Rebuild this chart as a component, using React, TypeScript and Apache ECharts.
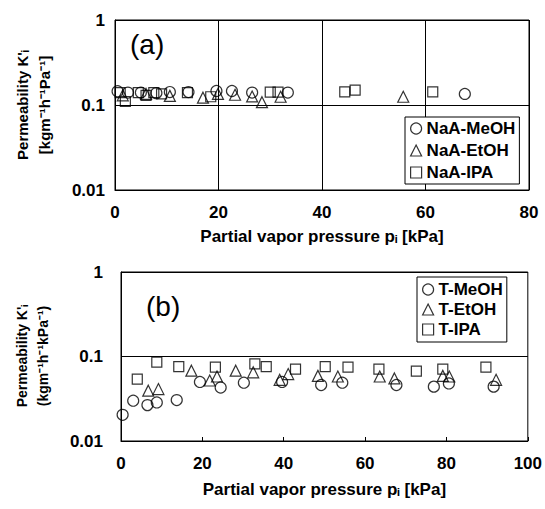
import React, { useEffect, useRef } from "react";
import * as echarts from "echarts";

// Panel (a): partial vapor pressure [kPa], permeability [kg m-1 h-1 Pa-1]
const naaMeOH: [number, number][] = [
  [0.5, 0.145], [2.5, 0.14], [5, 0.14], [8, 0.138], [10.6, 0.142], [14.2, 0.142],
  [19.6, 0.146], [22.6, 0.146], [26.5, 0.14], [33.4, 0.14], [67.6, 0.135],
];
const naaEtOH: [number, number][] = [
  [1.5, 0.13], [6, 0.135], [10.6, 0.128], [17, 0.122], [19.9, 0.135], [23.2, 0.132],
  [26.5, 0.126], [28.4, 0.108], [32, 0.125], [55.7, 0.125],
];
const naaIPA: [number, number][] = [
  [1, 0.14], [2, 0.11], [4.5, 0.14], [6, 0.13], [7.5, 0.14], [9, 0.135], [14, 0.14],
  [18.5, 0.125], [30, 0.142], [31.5, 0.142], [44.4, 0.143], [46.4, 0.15], [61.4, 0.143],
];

// Panel (b): partial vapor pressure [kPa], permeability [kg m-1 h-1 kPa-1]
const tMeOH: [number, number][] = [
  [0.4, 0.0204], [3.0, 0.03], [6.5, 0.0266], [8.8, 0.0286], [13.7, 0.0305], [19.4, 0.05],
  [24.5, 0.043], [30.2, 0.049], [39.6, 0.05], [49.2, 0.046], [54.4, 0.049], [67.7, 0.046],
  [76.9, 0.044], [80.6, 0.048], [91.6, 0.044],
];
const tEtOH: [number, number][] = [
  [6.7, 0.0394], [9.2, 0.0412], [17.3, 0.068], [21.8, 0.052], [23.6, 0.058], [28.2, 0.068],
  [32.5, 0.065], [39.0, 0.053], [41.1, 0.062], [48.4, 0.059], [53.3, 0.058], [63.6, 0.058],
  [67.2, 0.055], [79.1, 0.059], [80.7, 0.058], [92.2, 0.053],
];
const tIPA: [number, number][] = [
  [4.0, 0.054], [8.8, 0.0856], [14.2, 0.076], [23.2, 0.075], [32.9, 0.082], [35.7, 0.076],
  [42.9, 0.071], [50.2, 0.076], [55.8, 0.075], [63.4, 0.071], [72.6, 0.067], [79.1, 0.071],
  [89.7, 0.075],
];

const namesA = ["NaA-MeOH", "NaA-EtOH", "NaA-IPA"];
const namesB = ["T-MeOH", "T-EtOH", "T-IPA"];
const symbols = ["circle", "triangle", "rect"];
const xTitle = "Partial vapor pressure p\u1D62 [kPa]";

const FONT = "Liberation Sans, Arial, sans-serif";

export default function App() {
  const ref = useRef<HTMLDivElement>(null);
  useEffect(() => {
    if (!ref.current) return;
    const chart = echarts.init(ref.current, null, { renderer: "svg" });
    const mk = { color: "rgba(0,0,0,0)", borderColor: "#000", borderWidth: 1.2 };
    const yLabel = (v: number) => (v >= 0.99 ? "1" : v >= 0.099 ? "0.1" : "0.01");
    const xAxisBase = {
      type: "value",
      interval: 20,
      axisLine: { lineStyle: { color: "#000", width: 1 } },
      axisLabel: { color: "#000", fontFamily: FONT, fontWeight: "bold", fontSize: 17, margin: 14 },
      nameLocation: "middle",
      nameTextStyle: { color: "#000", fontFamily: FONT, fontWeight: "bold", fontSize: 17 },
    };
    const yAxisBase = {
      type: "log",
      logBase: 10,
      min: 0.01,
      max: 1,
      axisLine: { lineStyle: { color: "#000", width: 1 } },
      axisTick: { show: false },
      splitLine: { show: true, lineStyle: { color: "#000", width: 1 } },
      axisLabel: {
        color: "#000", fontFamily: FONT, fontWeight: "bold", fontSize: 17,
        formatter: yLabel, padding: [0, 0, 8, 0],
      },
    };
    const datas = [naaMeOH, naaEtOH, naaIPA, tMeOH, tEtOH, tIPA];
    const names = [...namesA, ...namesB];
    const series = datas.map((d, i) => ({
      type: "scatter",
      name: names[i],
      xAxisIndex: i < 3 ? 0 : 1,
      yAxisIndex: i < 3 ? 0 : 1,
      data: d,
      symbol: symbols[i % 3],
      symbolSize: symbols[i % 3] === "rect" ? 10 : 11,
      itemStyle: mk,
    }));
    const legendText = { color: "#000", fontFamily: FONT, fontWeight: "bold", fontSize: 17 };
    chart.setOption({
      animation: false,
      backgroundColor: "#fff",
      grid: [
        { left: 115, top: 20, width: 414, height: 170, show: true, borderColor: "#000", borderWidth: 1 },
        { left: 121, top: 272, width: 407, height: 169, show: true, borderColor: "#000", borderWidth: 1 },
      ],
      xAxis: [
        {
          ...xAxisBase, gridIndex: 0, min: 0, max: 80,
          axisTick: { show: false },
          splitLine: { show: true, lineStyle: { color: "#000", width: 1 } },
          name: xTitle, nameGap: 38,
        },
        {
          ...xAxisBase, gridIndex: 1, min: 0, max: 100,
          axisTick: { show: true, inside: true, length: 4, lineStyle: { color: "#000" } },
          splitLine: { show: false },
          name: xTitle, nameGap: 40,
        },
      ],
      yAxis: [
        { ...yAxisBase, gridIndex: 0, axisLabel: { ...yAxisBase.axisLabel, margin: 10 } },
        { ...yAxisBase, gridIndex: 1, axisLabel: { ...yAxisBase.axisLabel, margin: 18 } },
      ],
      legend: [
        {
          left: 405, top: 117, orient: "vertical", itemGap: 5, itemWidth: 11, itemHeight: 11,
          padding: [3, 4, 3, 5], borderColor: "#000", borderWidth: 1, backgroundColor: "#fff",
          textStyle: legendText,
          data: namesA.map((n, i) => ({ name: n, icon: symbols[i], itemStyle: mk })),
        },
        {
          left: 417, top: 277, orient: "vertical", itemGap: 3, itemWidth: 11, itemHeight: 11,
          padding: [4, 4, 4, 5], borderColor: "#000", borderWidth: 1, backgroundColor: "#fff",
          textStyle: legendText,
          data: namesB.map((n, i) => ({ name: n, icon: symbols[i], itemStyle: mk })),
        },
      ],
      graphic: [
        { type: "text", left: 130, top: 30, style: { text: "(a)", fontFamily: FONT, fontSize: 28, fill: "#000" } },
        { type: "text", left: 146, top: 292, style: { text: "(b)", fontFamily: FONT, fontSize: 28, fill: "#000" } },
        {
          type: "text", x: 22, y: 105, rotation: Math.PI / 2,
          style: { text: "Permeability K'\u1D62", fontFamily: FONT, fontWeight: "bold", fontSize: 15, fill: "#000", align: "center", verticalAlign: "middle" },
        },
        {
          type: "text", x: 44, y: 105, rotation: Math.PI / 2,
          style: { text: "[kgm\u207B\u00B9h\u207B\u00B9Pa\u207B\u00B9]", fontFamily: FONT, fontWeight: "bold", fontSize: 15, fill: "#000", align: "center", verticalAlign: "middle" },
        },
        {
          type: "text", x: 22, y: 356, rotation: Math.PI / 2,
          style: { text: "Permeability K'\u1D62", fontFamily: FONT, fontWeight: "bold", fontSize: 14, fill: "#000", align: "center", verticalAlign: "middle" },
        },
        {
          type: "text", x: 43, y: 356, rotation: Math.PI / 2,
          style: { text: "(kgm\u207B\u00B9h\u207B\u00B9kPa\u207B\u00B9)", fontFamily: FONT, fontWeight: "bold", fontSize: 14, fill: "#000", align: "center", verticalAlign: "middle" },
        },
      ],
      series,
    });
    return () => chart.dispose();
  }, []);
  return (
    <div
      ref={ref}
      style={{ position: "absolute", left: 0, top: 0, width: 545, height: 509 }}
    />
  );
}
